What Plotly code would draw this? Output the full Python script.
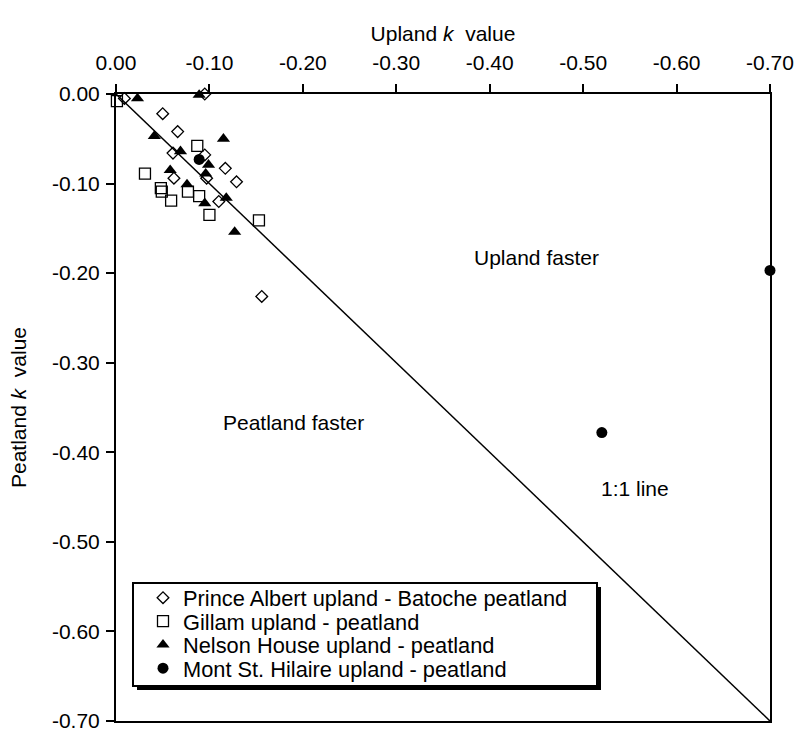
import plotly.graph_objects as go

# ---- data ----
tick_vals = [0.0, -0.1, -0.2, -0.3, -0.4, -0.5, -0.6, -0.7]
tick_text = ["0.00", "-0.10", "-0.20", "-0.30", "-0.40", "-0.50", "-0.60", "-0.70"]

series_names = [
    "Prince Albert upland - Batoche peatland",
    "Gillam upland - peatland",
    "Nelson House upland - peatland",
    "Mont St. Hilaire upland - peatland",
]

pa_upland = [-0.009, -0.095, -0.050, -0.066, -0.061, -0.095, -0.117, -0.062, -0.097, -0.129, -0.110, -0.156]
pa_peat = [-0.005, 0.000, -0.022, -0.042, -0.066, -0.068, -0.083, -0.094, -0.094, -0.098, -0.120, -0.226]

gi_upland = [-0.001, -0.087, -0.031, -0.048, -0.049, -0.077, -0.089, -0.059, -0.100, -0.153]
gi_peat = [-0.008, -0.058, -0.089, -0.105, -0.109, -0.109, -0.114, -0.119, -0.135, -0.141]

nh_upland = [-0.023, -0.089, -0.041, -0.115, -0.069, -0.099, -0.058, -0.096, -0.076, -0.095, -0.118, -0.127]
nh_peat = [-0.005, -0.001, -0.047, -0.050, -0.064, -0.079, -0.085, -0.089, -0.101, -0.122, -0.116, -0.154]

msh_upland = [-0.089, -0.520, -0.700]
msh_peat = [-0.073, -0.378, -0.197]

one_to_one = [0.0, -0.70]

# ---- layout constants (pixels) ----
W, H = 798, 733
ML, MR, MT, MB = 116, 28, 94, 12
PW, PH = W - ML - MR, H - MT - MB
FONT = "Liberation Sans, Arial, sans-serif"


def px_x(px):
    return (px - ML) / PW


def px_y(py):
    return (H - MB - py) / PH


fig = go.Figure()

fig.add_trace(go.Scatter(
    x=one_to_one, y=one_to_one, mode="lines",
    line=dict(color="black", width=1.5), showlegend=False, hoverinfo="skip"))

marker_styles = [
    dict(symbol="diamond-open", size=9, color="black", line=dict(width=1.3)),
    dict(symbol="square-open", size=11, color="black", line=dict(width=1.3)),
    dict(symbol="triangle-up", size=11.5, color="black"),
    dict(symbol="circle", size=11, color="black"),
]
xs = [pa_upland, gi_upland, nh_upland, msh_upland]
ys = [pa_peat, gi_peat, nh_peat, msh_peat]
legend_ids = ["legend", "legend2", "legend3", "legend4"]

for name, x, y, mk, lg in zip(series_names, xs, ys, marker_styles, legend_ids):
    fig.add_trace(go.Scatter(x=x, y=y, mode="markers", name=name, marker=mk,
                             legend=lg, cliponaxis=False))

axis_common = dict(
    tickvals=tick_vals, ticktext=tick_text,
    ticks="outside", ticklen=8, tickwidth=1.5, tickcolor="black",
    showline=True, linecolor="black", linewidth=2, mirror=True,
    showgrid=False, zeroline=False, ticklabeloverflow="allow",
    tickfont=dict(family=FONT, size=21, color="black"),
)

# one legend row per series, laid out like the reference's boxed legend
row_centres = [598, 621.5, 645, 668.5]
legend_layouts = {}
for lg, yc in zip(legend_ids, row_centres):
    legend_layouts[lg] = dict(
        x=px_x(143), y=px_y(yc), xanchor="left", yanchor="middle",
        bgcolor="rgba(0,0,0,0)", borderwidth=0,
        font=dict(family=FONT, size=21.8, color="black"),
    )

fig.update_layout(
    width=W, height=H,
    margin=dict(l=ML, r=MR, t=MT, b=MB, autoexpand=False),
    paper_bgcolor="white", plot_bgcolor="white",
    font=dict(family=FONT, size=21, color="black"),
    xaxis=dict(range=[0, -0.70], side="top", ticklabelstandoff=6,
               title=dict(text="Upland <i>k</i>  value", font=dict(family=FONT, size=21), standoff=3),
               **axis_common),
    yaxis=dict(range=[-0.70, 0], ticklabelstandoff=2,
               title=dict(text="Peatland <i>k</i>  value", font=dict(family=FONT, size=21), standoff=20),
               **axis_common),
    shapes=[
        dict(type="rect", xref="paper", yref="paper", layer="above",
             x0=px_x(137), x1=px_x(601), y0=px_y(587), y1=px_y(690),
             fillcolor="black", line=dict(width=0)),
        dict(type="rect", xref="paper", yref="paper", layer="above",
             x0=px_x(133), x1=px_x(597), y0=px_y(583), y1=px_y(686),
             fillcolor="white", line=dict(color="black", width=2)),
    ],
    annotations=[
        dict(x=-0.450, y=-0.182, xref="x", yref="y", text="Upland faster", showarrow=False,
             font=dict(family=FONT, size=21, color="black")),
        dict(x=-0.190, y=-0.367, xref="x", yref="y", text="Peatland faster", showarrow=False,
             font=dict(family=FONT, size=21, color="black")),
        dict(x=-0.555, y=-0.440, xref="x", yref="y", text="1:1 line", showarrow=False,
             font=dict(family=FONT, size=21, color="black")),
    ],
    **legend_layouts,
)

fig.write_html("out.html")
